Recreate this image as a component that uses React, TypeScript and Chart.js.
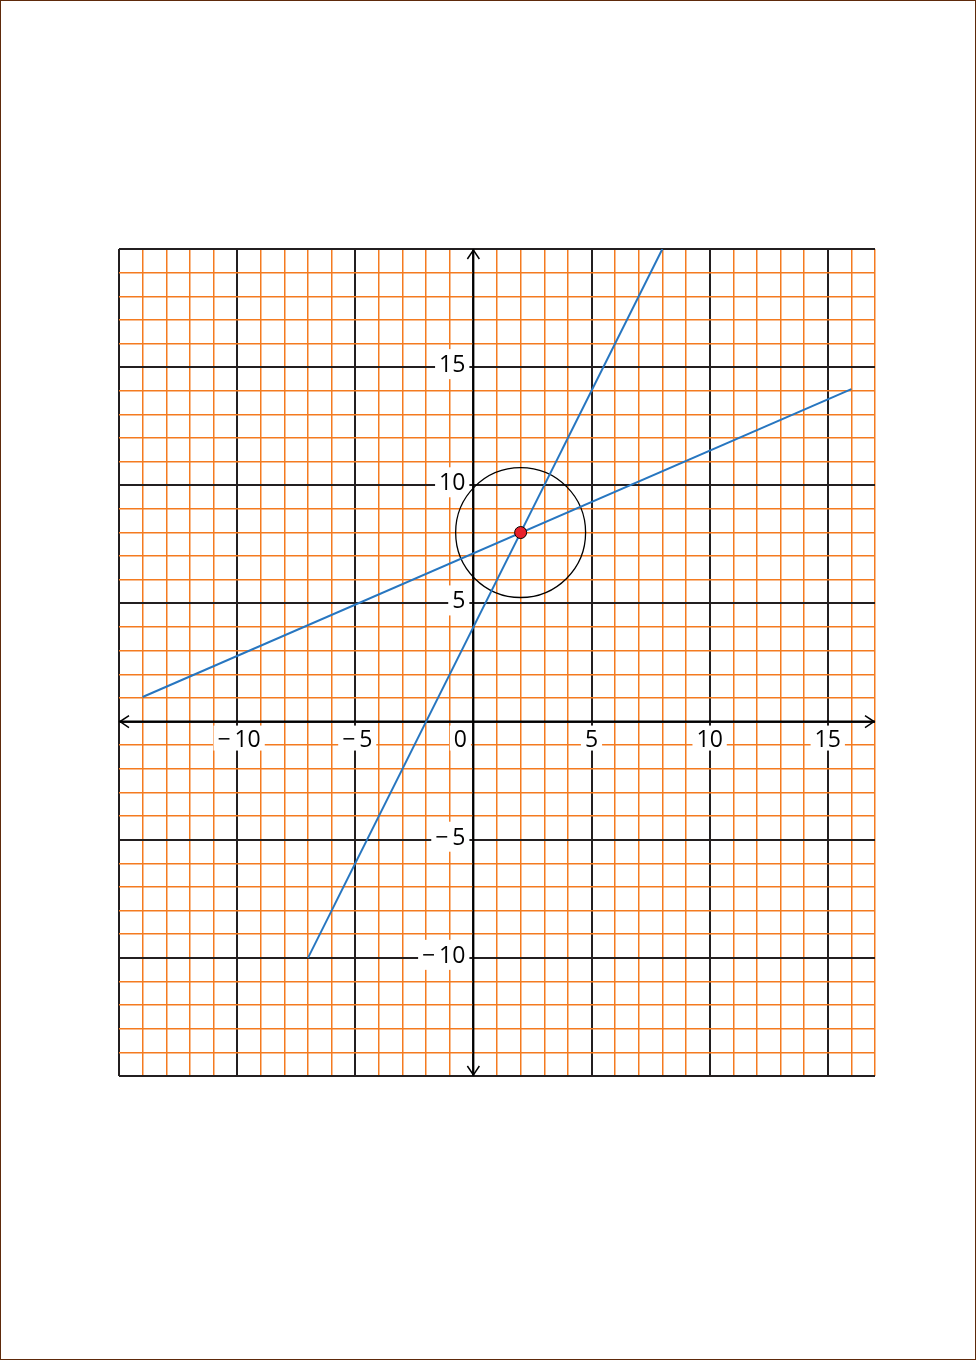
import React, { useEffect, useRef } from "react";
import { Chart, registerables } from "chart.js";

Chart.register(...registerables);

// ---- data ----
const xRange = [-15, 17];
const yRange = [-15, 20];
const lineA = [
  { x: -14, y: 1.04 },
  { x: 16, y: 14.07 },
];
const lineB = [
  { x: -7, y: -10 },
  { x: 8, y: 20 },
];
const intersection = [{ x: 2, y: 8 }];
const circleCenter = [2, 8];
const circleRadius = 2.75;
const xTickValues = [-10, -5, 0, 5, 10, 15];
const xTickLabels = ["\u2212\u200910", "\u2212\u20095", "0", "5", "10", "15"];
const yTickValues = [15, 10, 5, -5, -10];
const yTickLabels = ["15", "10", "5", "\u2212\u20095", "\u2212\u200910"];

const MINOR = "#f47b20";
const MAJOR = "#231f20";
const BLUE = "#2776c0";
const FONT = '23px "Open Sans"';

const overlayPlugin = {
  id: "overlay",
  beforeDatasetsDraw(chart: any) {
    const { ctx, chartArea: a } = chart;
    const xs = chart.scales.x;
    const ys = chart.scales.y;
    const x0 = xs.getPixelForValue(0);
    const y0 = ys.getPixelForValue(0);
    ctx.save();

    // axes
    ctx.strokeStyle = "#000";
    ctx.lineWidth = 2;
    ctx.beginPath();
    ctx.moveTo(a.left, y0);
    ctx.lineTo(a.right, y0);
    ctx.moveTo(x0, a.top);
    ctx.lineTo(x0, a.bottom);
    ctx.stroke();

    // arrowheads
    ctx.lineWidth = 1.5;
    const L = 10;
    const H = 6;
    ctx.beginPath();
    ctx.moveTo(a.right - L, y0 - H);
    ctx.lineTo(a.right - 1, y0);
    ctx.lineTo(a.right - L, y0 + H);
    ctx.moveTo(a.left + L, y0 - H);
    ctx.lineTo(a.left + 1, y0);
    ctx.lineTo(a.left + L, y0 + H);
    ctx.moveTo(x0 - H, a.top + L);
    ctx.lineTo(x0, a.top + 1);
    ctx.lineTo(x0 + H, a.top + L);
    ctx.moveTo(x0 - H, a.bottom - L);
    ctx.lineTo(x0, a.bottom - 1);
    ctx.lineTo(x0 + H, a.bottom - L);
    ctx.stroke();

    // tick labels
    ctx.font = FONT;
    ctx.textBaseline = "alphabetic";
    xTickValues.forEach((v, i) => {
      const t = xTickLabels[i];
      const w = ctx.measureText(t).width;
      const cx = v === 0 ? x0 - 13 : xs.getPixelForValue(v) + (v < 0 ? 2 : 0);
      ctx.fillStyle = "#fff";
      ctx.fillRect(cx - w / 2 - 4, y0 + 4, w + 8, 25);
      ctx.fillStyle = "#000";
      ctx.textAlign = "center";
      ctx.fillText(t, cx, y0 + 25);
    });
    yTickValues.forEach((v, i) => {
      const t = yTickLabels[i];
      const w = ctx.measureText(t).width;
      const py = ys.getPixelForValue(v);
      const right = x0 - 8;
      ctx.fillStyle = "#fff";
      ctx.fillRect(right - w - 4, py - 18, w + 8, 30);
      ctx.fillStyle = "#000";
      ctx.textAlign = "right";
      ctx.fillText(t, right, py + 5);
    });

    // circle
    const cx = xs.getPixelForValue(circleCenter[0]);
    const cy = ys.getPixelForValue(circleCenter[1]);
    const r = Math.abs(xs.getPixelForValue(circleCenter[0] + circleRadius) - cx);
    ctx.strokeStyle = "#000";
    ctx.lineWidth = 1.3;
    ctx.beginPath();
    ctx.arc(cx, cy, r, 0, Math.PI * 2);
    ctx.stroke();

    ctx.restore();
  },
};

function gridColor(c: any) {
  return c.tick && c.tick.value % 5 === 0 ? MAJOR : MINOR;
}
function gridWidth(c: any) {
  return c.tick && c.tick.value % 5 === 0 ? 2 : 1.5;
}

export default function App() {
  const ref = useRef<HTMLCanvasElement>(null);
  useEffect(() => {
    if (!ref.current) return;
    const chart = new Chart(ref.current, {
      type: "scatter",
      data: {
        datasets: [
          {
            data: intersection,
            pointRadius: 6,
            pointBackgroundColor: "#e8202a",
            pointBorderColor: "#000",
            pointBorderWidth: 1,
            showLine: false,
          },
          {
            data: lineA,
            showLine: true,
            borderColor: BLUE,
            borderWidth: 2,
            pointRadius: 0,
          },
          {
            data: lineB,
            showLine: true,
            borderColor: BLUE,
            borderWidth: 2,
            pointRadius: 0,
          },
        ],
      },
      options: {
        animation: false,
        responsive: false,
        devicePixelRatio: 1,
        layout: { padding: { left: 119, right: 101, top: 249, bottom: 284 } },
        plugins: { legend: { display: false }, tooltip: { enabled: false } },
        scales: {
          x: {
            type: "linear",
            min: xRange[0],
            max: xRange[1],
            border: { display: false },
            grid: { color: gridColor, lineWidth: gridWidth, drawTicks: false },
            ticks: { display: false, stepSize: 1, autoSkip: false, maxTicksLimit: 200 },
          },
          y: {
            type: "linear",
            min: yRange[0],
            max: yRange[1],
            border: { display: false },
            grid: { color: gridColor, lineWidth: gridWidth, drawTicks: false },
            ticks: { display: false, stepSize: 1, autoSkip: false, maxTicksLimit: 200 },
          },
        },
      },
      plugins: [overlayPlugin],
    } as any);
    return () => chart.destroy();
  }, []);

  return (
    <div style={{ position: "absolute", left: 0, top: 0, width: 976, height: 1360, background: "#fff" }}>
      <canvas
        ref={ref}
        width={976}
        height={1360}
        style={{ position: "absolute", left: 0, top: 0, width: 976, height: 1360 }}
      />
      <div
        style={{
          position: "absolute",
          left: 0,
          top: 0,
          width: 976,
          height: 1360,
          boxSizing: "border-box",
          border: "1px solid #5e2a0b",
          pointerEvents: "none",
        }}
      />
    </div>
  );
}
